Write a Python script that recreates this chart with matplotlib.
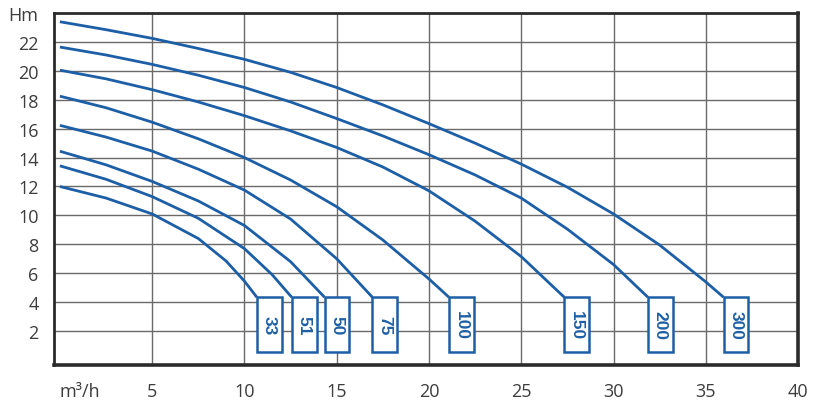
import matplotlib
matplotlib.use("Agg")
import matplotlib.pyplot as plt
from matplotlib.patches import Rectangle
import matplotlib.transforms as mtransforms

# ---- data ----
labels = ["300", "200", "150", "100", "75", "50", "51", "33"]

q_300 = [0, 2.5, 5, 7.5, 10, 12.5, 15, 17.5, 20, 22.5, 25, 27.5, 30, 32.5, 35, 35.96]
h_300 = [23.4, 22.85, 22.25, 21.55, 20.8, 19.9, 18.85, 17.65, 16.35, 15.0, 13.55, 11.95, 10.1, 7.95, 5.4, 4.34]

q_200 = [0, 2.5, 5, 7.5, 10, 12.5, 15, 17.5, 20, 22.5, 25, 27.5, 30, 31.86]
h_200 = [21.65, 21.1, 20.45, 19.7, 18.85, 17.85, 16.7, 15.5, 14.2, 12.8, 11.2, 9.05, 6.6, 4.34]

q_150 = [0, 2.5, 5, 7.5, 10, 12.5, 15, 17.5, 20, 22.5, 25, 27.33]
h_150 = [20.05, 19.45, 18.7, 17.85, 16.9, 15.85, 14.7, 13.35, 11.7, 9.6, 7.15, 4.34]

q_100 = [0, 2.5, 5, 7.5, 10, 12.5, 15, 17.5, 20, 21.08]
h_100 = [18.25, 17.45, 16.45, 15.3, 14.0, 12.45, 10.6, 8.3, 5.6, 4.34]

q_75 = [0, 2.5, 5, 7.5, 10, 12.5, 15, 16.93]
h_75 = [16.23, 15.42, 14.45, 13.2, 11.75, 9.75, 7.0, 4.34]

q_50 = [0, 2.5, 5, 7.5, 10, 12.5, 14.34]
h_50 = [14.44, 13.5, 12.35, 11.0, 9.3, 6.8, 4.34]

q_51 = [0, 2.5, 5, 7.5, 10, 11.5, 12.56]
h_51 = [13.43, 12.5, 11.3, 9.8, 7.7, 5.9, 4.34]

q_33 = [0, 2.5, 5, 7.5, 9, 10, 10.67]
h_33 = [12.0, 11.2, 10.1, 8.4, 6.85, 5.45, 4.34]

series_q = [q_300, q_200, q_150, q_100, q_75, q_50, q_51, q_33]
series_h = [h_300, h_200, h_150, h_100, h_75, h_50, h_51, h_33]

x_ticks = [5, 10, 15, 20, 25, 30, 35, 40]
y_ticks = [2, 4, 6, 8, 10, 12, 14, 16, 18, 20, 22]
x_unit = "m³/h"
y_unit = "Hm"

# ---- style ----
BLUE = "#1d5fa6"
GRID = "#6a6a6a"
SPINE = "#2b2b2b"
TXT = "#3d3d3d"
FONT = ["Open Sans", "DejaVu Sans"]

fig = plt.figure(figsize=(8.27, 4.14), dpi=100)
fig.patch.set_facecolor("white")
ax = fig.add_axes([0.0653, 0.116, 0.8997, 0.850])
ax.set_xlim(-0.32, 39.75)
ax.set_ylim(-0.35, 24)

# grid
for xv in x_ticks[:-1]:
    ax.axvline(xv, color=GRID, lw=1.0, zorder=1)
for yv in y_ticks:
    ax.axhline(yv, color=GRID, lw=1.0, zorder=1)

# curves + label boxes
box_w = 1.35
box_bottom = 0.57
for lab, qs, hs in zip(labels, series_q, series_h):
    ax.plot(qs, hs, color=BLUE, lw=2.0, solid_capstyle="butt",
            solid_joinstyle="round", zorder=3)
    x0, y0 = qs[-1], hs[-1]
    rect = Rectangle((x0, box_bottom), box_w, y0 - box_bottom,
                     facecolor="white", edgecolor=BLUE, lw=1.8, zorder=4)
    ax.add_patch(rect)
    ax.text(x0 + box_w / 2, (y0 + box_bottom) / 2, lab, rotation=-90,
            ha="center", va="center", color=BLUE, fontsize=12.5,
            fontweight="bold",
            family=["Liberation Sans Narrow", "Liberation Sans", "DejaVu Sans"],
            zorder=5)

# spines
for side, lw in (("left", 2.0), ("top", 2.0), ("bottom", 2.6), ("right", 2.6)):
    ax.spines[side].set_color(SPINE)
    ax.spines[side].set_linewidth(lw)
    ax.spines[side].set_zorder(6)

# ticks
ax.set_xticks(x_ticks)
ax.set_xticklabels([str(v) for v in x_ticks])
ax.set_yticks(y_ticks + [24])
ax.set_yticklabels([str(v) for v in y_ticks] + [y_unit])
ax.tick_params(axis="both", length=0, labelsize=13, labelcolor=TXT)
ax.tick_params(axis="x", pad=12)
ax.tick_params(axis="y", pad=11)
for t in ax.get_xticklabels() + ax.get_yticklabels():
    t.set_family(FONT)

trans = mtransforms.blended_transform_factory(ax.transData, ax.transAxes)
ax.text(1.1, -0.075, x_unit, transform=trans, ha="center", va="center",
        fontsize=13, color=TXT, family=FONT)

fig.savefig("out.png", dpi=100, facecolor="white")
